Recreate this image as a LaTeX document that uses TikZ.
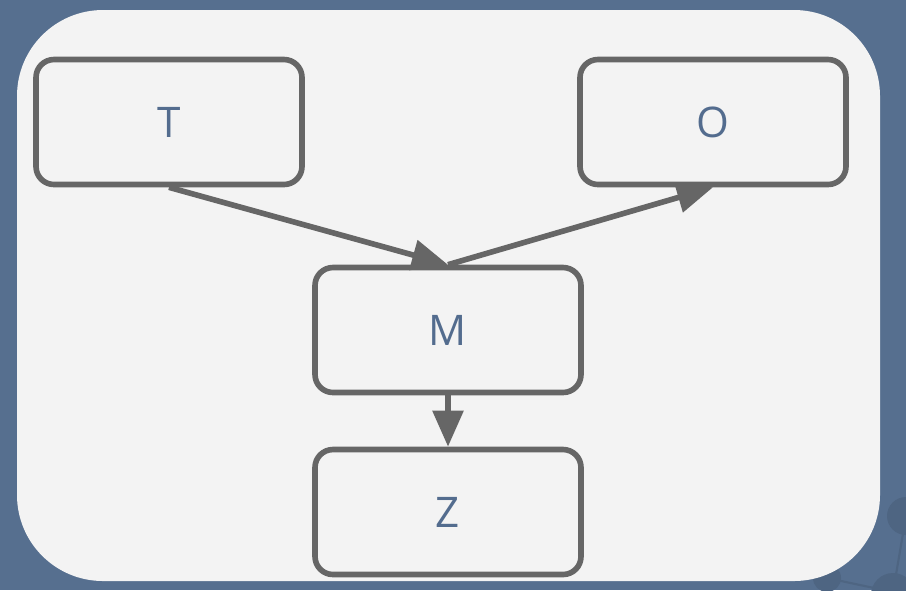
\documentclass[tikz,border=0pt]{standalone}
\usepackage{fontspec}
\setmainfont{Open Sans}
\usetikzlibrary{arrows.meta}
\definecolor{bgblue}{HTML}{566F8F}
\definecolor{dotblue}{HTML}{4E6582}
\definecolor{panelgray}{HTML}{F3F3F3}
\definecolor{boxgray}{HTML}{666666}
\definecolor{txtblue}{HTML}{536C8E}
\tikzset{bx/.append style={draw=boxgray, line width=1.6pt, rounded corners=0.18cm,
  minimum width=2.66cm, minimum height=1.25cm, fill=panelgray, text=txtblue,
  font=\fontsize{12}{14}\selectfont}}
\tikzset{ar/.append style={draw=boxgray, line width=1.6pt,
  -{Triangle[length=3.6mm,width=3mm]}}}

\begin{document}
\begin{tikzpicture}[x=0.1mm,y=-0.1mm]
                % background
                \useasboundingbox (0,0) rectangle (906,590);
                \clip (0,0) rectangle (906,590);
                \fill[bgblue] (0,0) rectangle (906,590);
                \draw[dotblue, line width=0.6pt] (906,516) -- (893,592) -- (827,578);
                \fill[dotblue] (906,516) circle (19);
                \fill[dotblue] (827,578) circle (14);
                \fill[dotblue] (893,595) circle (22);
                \fill[panelgray] (17,10) [rounded corners=0.86cm] rectangle (880,581);
                % boxes
                \node[bx] (t) at (169,122) {T};
                \node[bx] (o) at (713,122) {O};
                \node[bx] (m) at (448,330) {M};
                \node[bx] (z) at (448,512) {Z};
                \draw[ar] (t.south) -- (m.north);
                \draw[ar] (m.north) -- (o.south);
                \draw[ar] (m.south) -- (z.north);
            \end{tikzpicture}
\end{document}
